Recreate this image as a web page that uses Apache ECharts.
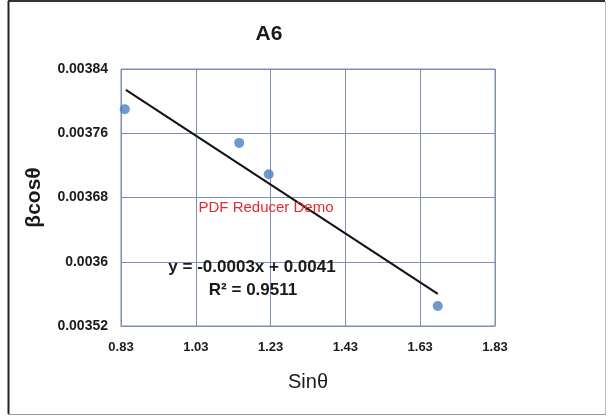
<!DOCTYPE html>
<html>
<head>
<meta charset="utf-8">
<script src="https://cdn.jsdelivr.net/npm/echarts@6/dist/echarts.min.js"></script>
<style>
html,body{margin:0;padding:0;background:#fff;}
#chart{width:608px;height:417px;}
</style>
</head>
<body>
<div id="chart"></div>
<script>
// Data
var sinTheta = [0.840, 1.146, 1.225, 1.677];
var betaCos = [0.003790, 0.003748, 0.003709, 0.003545];
var trendX = [0.843, 1.677];
var trendY = [0.003814, 0.003560];
var xTicks = [0.83, 1.03, 1.23, 1.43, 1.63, 1.83];
var yTicks = [0.00352, 0.0036, 0.00368, 0.00376, 0.00384];
var titleText = 'A6';
var xName = 'Sinθ';
var yName = 'βcosθ';
var eqText = 'y = -0.0003x + 0.0041';
var r2Text = 'R² = 0.9511';
var watermark = 'PDF Reducer Demo';

var chart = echarts.init(document.getElementById('chart'));
var gridColor = '#7d8fb2';
var pts = sinTheta.map(function (x, i) { return [x, betaCos[i]]; });
var trend = trendX.map(function (x, i) { return [x, trendY[i]]; });
var ff = 'Liberation Sans, Arial, sans-serif';

chart.setOption({
  backgroundColor: '#fff',
  animation: false,
  title: {
    text: titleText, left: 264, top: 19, textAlign: 'center',
    textStyle: {fontFamily: ff, fontWeight: 'bold', fontSize: 21, color: '#1a1a1a'}
  },
  grid: {left: 121, right: 113, top: 69, bottom: 91, show: true, borderColor: gridColor, borderWidth: 1},
  xAxis: {
    type: 'value', min: 0.83, max: 1.83, interval: 0.2,
    axisLine: {show: true, lineStyle: {color: gridColor}},
    axisTick: {show: false},
    splitLine: {show: true, lineStyle: {color: gridColor, width: 1}},
    axisLabel: {margin: 15, fontFamily: ff, fontWeight: 'bold', fontSize: 13, color: '#1a1a1a', formatter: function (v) {
      var best = xTicks.reduce(function (a, b) { return Math.abs(b - v) < Math.abs(a - v) ? b : a; });
      return best.toFixed(2);
    }},
    name: xName, nameLocation: 'middle', nameGap: 46,
    nameTextStyle: {fontFamily: ff, fontSize: 20, color: '#1a1a1a'}
  },
  yAxis: {
    type: 'value', min: 0.00352, max: 0.00384, interval: 0.00008,
    axisLine: {show: true, lineStyle: {color: gridColor}},
    axisTick: {show: false},
    splitLine: {show: true, lineStyle: {color: gridColor, width: 1}},
    axisLabel: {margin: 13, fontFamily: ff, fontWeight: 'bold', fontSize: 14, color: '#1a1a1a', formatter: function (v) {
      var best = yTicks.reduce(function (a, b) { return Math.abs(b - v) < Math.abs(a - v) ? b : a; });
      return String(best);
    }},
    name: yName, nameLocation: 'middle', nameGap: 76, nameRotate: 90,
    nameTextStyle: {fontFamily: ff, fontWeight: 'bold', fontSize: 21, color: '#1a1a1a'}
  },
  series: [
    {
      type: 'line', data: trend, symbol: 'none', silent: true,
      lineStyle: {color: '#111', width: 2}, z: 3
    },
    {
      type: 'scatter', data: pts, symbol: 'circle', symbolSize: 10,
      itemStyle: {color: '#4a7fc1'}, z: 4
    }
  ],
  graphic: [
    {type: 'text', x: 266, y: 208, style: {text: watermark, fill: '#e52a2e', font: '15px "Liberation Sans", Arial, sans-serif', textAlign: 'center', textVerticalAlign: 'middle'}, z: 10},
    {type: 'text', x: 252, y: 267, style: {text: eqText, fill: '#1a1a1a', font: 'bold 17px "Liberation Sans", Arial, sans-serif', textAlign: 'center', textVerticalAlign: 'middle'}, z: 10},
    {type: 'text', x: 253, y: 290, style: {text: r2Text, fill: '#1a1a1a', font: 'bold 17px "Liberation Sans", Arial, sans-serif', textAlign: 'center', textVerticalAlign: 'middle'}, z: 10},
    {type: 'line', shape: {x1: 8.5, y1: 1, x2: 8.5, y2: 414}, style: {stroke: '#222', lineWidth: 2}},
    {type: 'line', shape: {x1: 8, y1: 1, x2: 605, y2: 1}, style: {stroke: '#333', lineWidth: 2}},
    {type: 'line', shape: {x1: 605.5, y1: 1, x2: 605.5, y2: 414}, style: {stroke: '#bbb', lineWidth: 1}},
    {type: 'line', shape: {x1: 8, y1: 414.5, x2: 606, y2: 414.5}, style: {stroke: '#999', lineWidth: 1}}
  ]
});
</script>
</body>
</html>
